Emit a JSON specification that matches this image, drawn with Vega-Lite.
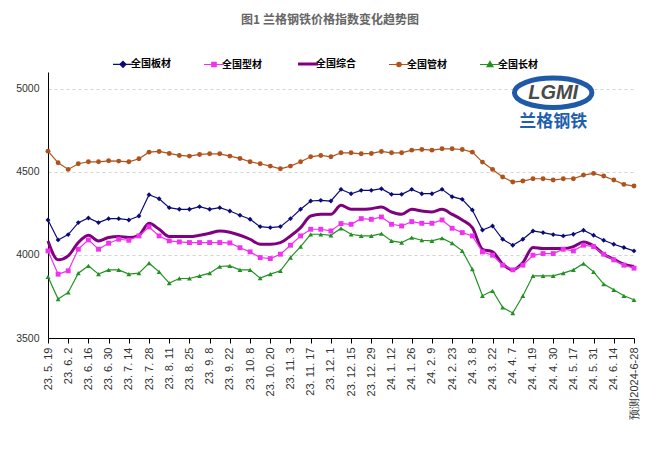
{
  "$schema": "https://vega.github.io/schema/vega-lite/v6.json",
  "width": 586,
  "height": 266,
  "autosize": {"type": "none"},
  "padding": {"left": 48, "top": 72, "right": 29, "bottom": 114},
  "background": "white",
  "config": {"view": {"stroke": null}},
  "title": {
    "text": "图1 兰格钢铁价格指数变化趋势图",
    "font": "Noto Sans CJK SC",
    "fontSize": 12,
    "fontWeight": "bold",
    "color": "#666666",
    "anchor": "middle",
    "frame": "group",
    "dx": -11,
    "offset": 32
  },
  "data": {
    "values": [
      {"date": "23.5.19", "全国板材": 4210, "全国型材": 4024, "全国综合": 4084, "全国管材": 4624, "全国长材": 3868},
      {"date": "23.5.26", "全国板材": 4090, "全国型材": 3884, "全国综合": 3970, "全国管材": 4554, "全国长材": 3734},
      {"date": "23.6.2", "全国板材": 4122, "全国型材": 3904, "全国综合": 3994, "全国管材": 4514, "全国长材": 3774},
      {"date": "23.6.9", "全国板材": 4194, "全国型材": 4034, "全国综合": 4074, "全国管材": 4548, "全国长材": 3890},
      {"date": "23.6.16", "全国板材": 4222, "全国型材": 4090, "全国综合": 4118, "全国管材": 4560, "全国长材": 3934},
      {"date": "23.6.21", "全国板材": 4194, "全国型材": 4034, "全国综合": 4084, "全国管材": 4560, "全国长材": 3884},
      {"date": "23.6.30", "全国板材": 4218, "全国型材": 4070, "全国综合": 4104, "全国管材": 4566, "全国长材": 3910},
      {"date": "23.7.7", "全国板材": 4218, "全国型材": 4094, "全国综合": 4110, "全国管材": 4564, "全国长材": 3910},
      {"date": "23.7.14", "全国板材": 4210, "全国型材": 4088, "全国综合": 4104, "全国管材": 4560, "全国长材": 3884},
      {"date": "23.7.21", "全国板材": 4234, "全国型材": 4114, "全国综合": 4118, "全国管材": 4578, "全国长材": 3890},
      {"date": "23.7.28", "全国板材": 4362, "全国型材": 4168, "全国综合": 4190, "全国管材": 4618, "全国长材": 3950},
      {"date": "23.8.4", "全国板材": 4338, "全国型材": 4114, "全国综合": 4154, "全国管材": 4622, "全国长材": 3898},
      {"date": "23.8.11", "全国板材": 4284, "全国型材": 4084, "全国综合": 4110, "全国管材": 4610, "全国长材": 3830},
      {"date": "23.8.18", "全国板材": 4274, "全国型材": 4078, "全国综合": 4110, "全国管材": 4598, "全国长材": 3858},
      {"date": "23.8.25", "全国板材": 4274, "全国型材": 4074, "全国综合": 4110, "全国管材": 4594, "全国长材": 3858},
      {"date": "23.9.1", "全国板材": 4290, "全国型材": 4074, "全国综合": 4118, "全国管材": 4604, "全国长材": 3874},
      {"date": "23.9.8", "全国板材": 4274, "全国型材": 4074, "全国综合": 4130, "全国管材": 4608, "全国长材": 3890},
      {"date": "23.9.15", "全国板材": 4284, "全国型材": 4074, "全国综合": 4144, "全国管材": 4608, "全国长材": 3930},
      {"date": "23.9.22", "全国板材": 4264, "全国型材": 4072, "全国综合": 4136, "全国管材": 4594, "全国长材": 3934},
      {"date": "23.9.28", "全国板材": 4238, "全国型材": 4043, "全国综合": 4118, "全国管材": 4580, "全国长材": 3910},
      {"date": "23.10.8", "全国板材": 4214, "全国型材": 4018, "全国综合": 4094, "全国管材": 4560, "全国长材": 3910},
      {"date": "23.10.13", "全国板材": 4170, "全国型材": 3984, "全国综合": 4064, "全国管材": 4548, "全国长材": 3860},
      {"date": "23.10.20", "全国板材": 4164, "全国型材": 3978, "全国综合": 4064, "全国管材": 4534, "全国长材": 3884},
      {"date": "23.10.27", "全国板材": 4170, "全国型材": 4004, "全国综合": 4074, "全国管材": 4518, "全国长材": 3904},
      {"date": "23.11.3", "全国板材": 4218, "全国型材": 4058, "全国综合": 4114, "全国管材": 4534, "全国长材": 3984},
      {"date": "23.11.10", "全国板材": 4274, "全国型材": 4114, "全国综合": 4164, "全国管材": 4560, "全国长材": 4050},
      {"date": "23.11.17", "全国板材": 4324, "全国型材": 4154, "全国综合": 4234, "全国管材": 4590, "全国长材": 4124},
      {"date": "23.11.24", "全国板材": 4328, "全国型材": 4154, "全国综合": 4244, "全国管材": 4598, "全国长材": 4124},
      {"date": "23.12.1", "全国板材": 4324, "全国型材": 4144, "全国综合": 4244, "全国管材": 4590, "全国长材": 4118},
      {"date": "23.12.8", "全国板材": 4394, "全国型材": 4188, "全国综合": 4298, "全国管材": 4614, "全国长材": 4160},
      {"date": "23.12.15", "全国板材": 4368, "全国型材": 4184, "全国综合": 4274, "全国管材": 4614, "全国长材": 4124},
      {"date": "23.12.22", "全国板材": 4388, "全国型材": 4218, "全国综合": 4274, "全国管材": 4608, "全国长材": 4114},
      {"date": "23.12.29", "全国板材": 4388, "全国型材": 4214, "全国综合": 4278, "全国管材": 4610, "全国长材": 4114},
      {"date": "24.1.5", "全国板材": 4398, "全国型材": 4228, "全国综合": 4288, "全国管材": 4622, "全国长材": 4128},
      {"date": "24.1.12", "全国板材": 4364, "全国型材": 4184, "全国综合": 4258, "全国管材": 4614, "全国长材": 4084},
      {"date": "24.1.19", "全国板材": 4364, "全国型材": 4174, "全国综合": 4244, "全国管材": 4614, "全国长材": 4074},
      {"date": "24.1.26", "全国板材": 4394, "全国型材": 4200, "全国综合": 4274, "全国管材": 4630, "全国长材": 4104},
      {"date": "24.2.2", "全国板材": 4368, "全国型材": 4190, "全国综合": 4264, "全国管材": 4634, "全国长材": 4088},
      {"date": "24.2.9", "全国板材": 4368, "全国型材": 4190, "全国综合": 4258, "全国管材": 4630, "全国长材": 4084},
      {"date": "24.2.18", "全国板材": 4394, "全国型材": 4210, "全国综合": 4274, "全国管材": 4638, "全国长材": 4100},
      {"date": "24.2.23", "全国板材": 4350, "全国型材": 4160, "全国综合": 4244, "全国管材": 4638, "全国长材": 4070},
      {"date": "24.3.1", "全国板材": 4334, "全国型材": 4134, "全国综合": 4210, "全国管材": 4634, "全国长材": 4024},
      {"date": "24.3.8", "全国板材": 4270, "全国型材": 4114, "全国综合": 4164, "全国管材": 4618, "全国长材": 3914},
      {"date": "24.3.15", "全国板材": 4150, "全国型材": 4018, "全国综合": 4034, "全国管材": 4558, "全国长材": 3754},
      {"date": "24.3.22", "全国板材": 4174, "全国型材": 3998, "全国综合": 4018, "全国管材": 4514, "全国长材": 3784},
      {"date": "24.3.29", "全国板材": 4094, "全国型材": 3938, "全国综合": 3944, "全国管材": 4468, "全国长材": 3684},
      {"date": "24.4.7", "全国板材": 4058, "全国型材": 3910, "全国综合": 3910, "全国管材": 4438, "全国长材": 3650},
      {"date": "24.4.12", "全国板材": 4094, "全国型材": 3938, "全国综合": 3954, "全国管材": 4444, "全国长材": 3754},
      {"date": "24.4.19", "全国板材": 4144, "全国型材": 3998, "全国综合": 4044, "全国管材": 4458, "全国长材": 3874},
      {"date": "24.4.26", "全国板材": 4134, "全国型材": 4008, "全国综合": 4038, "全国管材": 4458, "全国长材": 3874},
      {"date": "24.4.30", "全国板材": 4122, "全国型材": 4008, "全国综合": 4038, "全国管材": 4450, "全国长材": 3874},
      {"date": "24.5.10", "全国板材": 4114, "全国型材": 4034, "全国综合": 4038, "全国管材": 4458, "全国长材": 3890},
      {"date": "24.5.17", "全国板材": 4124, "全国型材": 4024, "全国综合": 4050, "全国管材": 4458, "全国长材": 3910},
      {"date": "24.5.24", "全国板材": 4148, "全国型材": 4058, "全国综合": 4078, "全国管材": 4480, "全国长材": 3948},
      {"date": "24.5.31", "全国板材": 4118, "全国型材": 4050, "全国综合": 4054, "全国管材": 4490, "全国长材": 3898},
      {"date": "24.6.7", "全国板材": 4088, "全国型材": 4004, "全国综合": 4004, "全国管材": 4474, "全国长材": 3824},
      {"date": "24.6.14", "全国板材": 4064, "全国型材": 3970, "全国综合": 3974, "全国管材": 4450, "全国长材": 3790},
      {"date": "24.6.21", "全国板材": 4044, "全国型材": 3938, "全国综合": 3944, "全国管材": 4424, "全国长材": 3754},
      {"date": "预测2024-6-28", "全国板材": 4024, "全国型材": 3920, "全国综合": 3930, "全国管材": 4414, "全国长材": 3730}
    ]
  },
  "transform": [
    {"fold": ["全国板材", "全国型材", "全国综合", "全国管材", "全国长材"], "as": ["series", "value"]}
  ],
  "layer": [
    {
      "transform": [{"filter": "datum.series === '全国综合'"}],
      "mark": {"type": "line", "strokeWidth": 3, "interpolate": "monotone"},
      "encoding": {
        "x": {"field": "date", "type": "ordinal"},
        "y": {"field": "value", "type": "quantitative"},
        "color": {"field": "series", "type": "nominal"}
      }
    },
    {
      "transform": [{"filter": "datum.series !== '全国综合'"}],
      "mark": {"type": "line", "strokeWidth": 1.2},
      "encoding": {
        "x": {"field": "date", "type": "ordinal"},
        "y": {"field": "value", "type": "quantitative"},
        "color": {"field": "series", "type": "nominal"}
      }
    },
    {
      "transform": [{"filter": "datum.series !== '全国综合'"}],
      "mark": {"type": "point", "filled": true, "opacity": 1, "size": 24},
      "encoding": {
        "x": {"field": "date", "type": "ordinal"},
        "y": {"field": "value", "type": "quantitative"},
        "color": {"field": "series", "type": "nominal"},
        "shape": {
          "field": "series",
          "type": "nominal",
          "scale": {"domain": ["全国板材", "全国型材", "全国管材", "全国长材"], "range": ["diamond", "square", "circle", "triangle-up"]},
          "legend": null
        }
      }
    },
    {
      "transform": [{"filter": "datum.date === '24.4.30' && datum.series === '全国板材'"}],
      "mark": {"type": "point", "shape": "M-1,0A1,0.38,0,1,1,1,0A1,0.38,0,1,1,-1,0Z", "size": 6000, "strokeWidth": 5, "opacity": 1, "filled": false, "stroke": "#1f5aa8", "fill": "#ffffff"},
      "encoding": {
        "x": {"datum": "24.4.30"},
        "y": {"datum": 4975}
      }
    },
    {
      "transform": [{"filter": "datum.date === '24.4.30' && datum.series === '全国板材'"}],
      "mark": {"type": "text", "text": "LGMI", "font": "Liberation Sans", "fontSize": 20, "fontWeight": "bold", "fontStyle": "italic", "baseline": "middle", "align": "center", "fill": "#4a4a4a"},
      "encoding": {
        "x": {"datum": "24.4.30"},
        "y": {"datum": 4975}
      }
    },
    {
      "transform": [{"filter": "datum.date === '24.4.30' && datum.series === '全国板材'"}],
      "mark": {"type": "text", "text": "兰格钢铁", "font": "Noto Sans CJK SC", "fontSize": 17, "fontWeight": "bold", "baseline": "middle", "align": "center", "fill": "#1f5fb0"},
      "encoding": {
        "x": {"datum": "24.4.30"},
        "y": {"datum": 4800}
      }
    }
  ],
  "encoding": {
    "x": {
      "field": "date",
      "type": "ordinal",
      "scale": {
        "type": "point",
        "padding": 0,
        "domain": ["23.5.19","23.5.26","23.6.2","23.6.9","23.6.16","23.6.21","23.6.30","23.7.7","23.7.14","23.7.21","23.7.28","23.8.4","23.8.11","23.8.18","23.8.25","23.9.1","23.9.8","23.9.15","23.9.22","23.9.28","23.10.8","23.10.13","23.10.20","23.10.27","23.11.3","23.11.10","23.11.17","23.11.24","23.12.1","23.12.8","23.12.15","23.12.22","23.12.29","24.1.5","24.1.12","24.1.19","24.1.26","24.2.2","24.2.9","24.2.18","24.2.23","24.3.1","24.3.8","24.3.15","24.3.22","24.3.29","24.4.7","24.4.12","24.4.19","24.4.26","24.4.30","24.5.10","24.5.17","24.5.24","24.5.31","24.6.7","24.6.14","24.6.21","预测2024-6-28"]
      },
      "axis": {
        "title": null,
        "values": ["23.5.19","23.6.2","23.6.16","23.6.30","23.7.14","23.7.28","23.8.11","23.8.25","23.9.8","23.9.22","23.10.8","23.10.20","23.11.3","23.11.17","23.12.1","23.12.15","23.12.29","24.1.12","24.1.26","24.2.9","24.2.23","24.3.8","24.3.22","24.4.7","24.4.19","24.4.30","24.5.17","24.5.31","24.6.14","预测2024-6-28"],
        "labelAngle": 270,
        "labelAlign": "right",
        "labelBaseline": "middle",
        "labelFont": "Liberation Sans",
        "labelFontSize": 11,
        "labelColor": "#333333",
        "labelPadding": 4,
        "labelOverlap": false,
        "labelExpr": "indexof(datum.label, '预测') === 0 ? datum.label : join(split(datum.label, '.'), '. ')",
        "tickSize": 5,
        "tickColor": "#000000",
        "domainColor": "#000000",
        "grid": false
      }
    },
    "y": {
      "field": "value",
      "type": "quantitative",
      "scale": {"domain": [3500, 5100], "nice": false, "zero": false},
      "axis": {
        "title": null,
        "values": [3500, 4000, 4500, 5000],
        "format": "d",
        "ticks": false,
        "labelPadding": 9,
        "labelFont": "Liberation Sans",
        "labelFontSize": 10.5,
        "labelColor": "#333333",
        "domainColor": "#000000",
        "grid": true,
        "gridDash": [3, 3],
        "gridColor": "#c8c8c8",
        "gridWidth": 0.8
      }
    },
    "color": {
      "field": "series",
      "type": "nominal",
      "scale": {
        "domain": ["全国板材", "全国型材", "全国综合", "全国管材", "全国长材"],
        "range": ["#0a0a78", "#f032f0", "#800080", "#b0521c", "#229122"]
      },
      "legend": {
        "title": null,
        "orient": "none",
        "legendX": 70,
        "legendY": -13,
        "direction": "horizontal",
        "labelFont": "Noto Sans CJK SC",
        "labelFontSize": 10,
        "labelFontWeight": "bold",
        "labelColor": "#000000",
        "symbolSize": 400,
        "columnPadding": 30,
        "labelOffset": 3,
        "encode": {
          "symbols": {
            "update": {
              "shape": {"signal": "datum.value === '全国板材' ? 'M-1,0H1M0,-0.3L0.3,0L0,0.3L-0.3,0Z' : datum.value === '全国型材' ? 'M-1,0H1M-0.22,-0.22H0.22V0.22H-0.22Z' : datum.value === '全国综合' ? 'M-1,0H1' : datum.value === '全国管材' ? 'M-1,0H1M0.22,0A0.22,0.22,0,1,1,-0.22,0A0.22,0.22,0,1,1,0.22,0Z' : 'M-1,0H1M0,-0.3L0.3,0.22L-0.3,0.22Z'"},
              "fill": {"signal": "scale('color', datum.value)"},
              "stroke": {"signal": "scale('color', datum.value)"},
              "strokeWidth": {"signal": "datum.value === '全国综合' ? 3 : 1.2"},
              "opacity": {"value": 1},
              "fillOpacity": {"value": 1}
            }
          }
        }
      }
    }
  }
}
